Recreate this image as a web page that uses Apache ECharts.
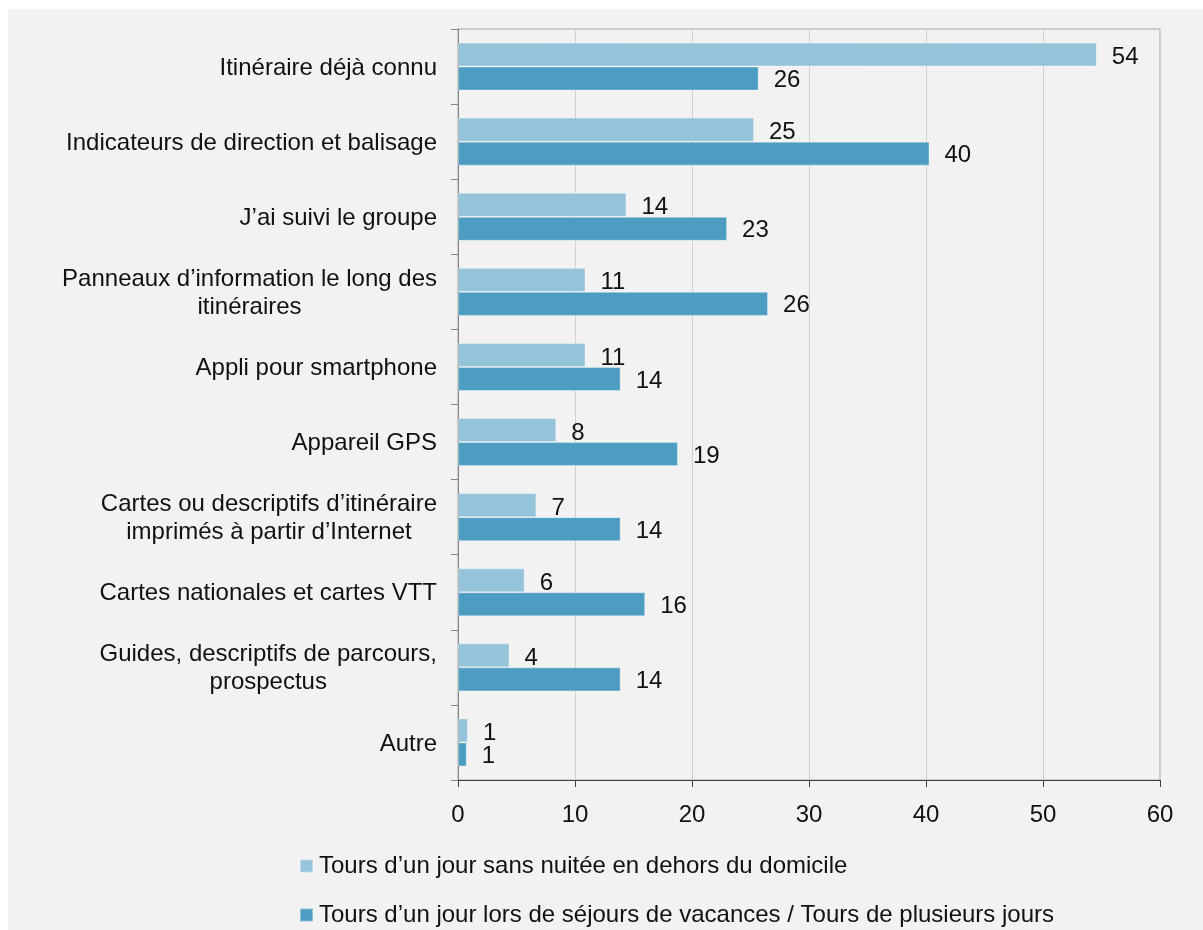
<!DOCTYPE html>
<html>
<head>
<meta charset="utf-8">
<script src="https://cdn.jsdelivr.net/npm/echarts@6/dist/echarts.min.js"></script>
<style>
  html, body { margin: 0; padding: 0; background: #ffffff; }
  #chart { position: absolute; left: 8px; top: 9px; width: 1195px; height: 921px; background: #f2f2f2; }
</style>
</head>
<body>
<div id="chart"></div>
<script>
const categories = [
  "Itinéraire déjà connu",
  "Indicateurs de direction et balisage",
  "J’ai suivi le groupe",
  "Panneaux d’information le long des\nitinéraires",
  "Appli pour smartphone",
  "Appareil GPS",
  "Cartes ou descriptifs d’itinéraire\nimprimés à partir d’Internet",
  "Cartes nationales et cartes VTT",
  "Guides, descriptifs de parcours,\nprospectus",
  "Autre"
];
const seriesNames = [
  "Tours d’un jour sans nuitée en dehors du domicile",
  "Tours d’un jour lors de séjours de vacances / Tours de plusieurs jours"
];
const dayTours = [54.6, 25.3, 14.4, 10.9, 10.9, 8.4, 6.7, 5.7, 4.4, 0.85];
const multiDayTours = [25.7, 40.3, 23.0, 26.5, 13.9, 18.8, 13.9, 16.0, 13.9, 0.75];
const dayLabels = ["54", "25", "14", "11", "11", "8", "7", "6", "4", "1"];
const multiDayLabels = ["26", "40", "23", "26", "14", "19", "14", "16", "14", "1"];
const xTicks = { min: 0, max: 60, interval: 10 };

const FONT = "Liberation Sans, Arial, sans-serif";
const chart = echarts.init(document.getElementById('chart'));
const labelStyle = (arr, dy) => ({
  show: true,
  position: 'right',
  distance: 15,
  offset: [0, dy],
  color: '#111',
  fontSize: 24,
  fontFamily: FONT,
  formatter: (p) => arr[p.dataIndex]
});
const legendBase = (name, top) => ({
  orient: 'vertical',
  left: 286,
  top: top,
  itemWidth: 13,
  itemHeight: 13,
  icon: 'rect',
  textStyle: { fontSize: 24, color: '#111', fontFamily: FONT, padding: [0, 0, 0, 1] },
  data: [name]
});
chart.setOption({
  backgroundColor: '#f2f2f2',
  animation: false,
  textStyle: { fontFamily: FONT },
  grid: {
    left: 450, right: 43, top: 20, bottom: 150,
    show: true, borderColor: '#a6a6a6', borderWidth: 1, backgroundColor: 'transparent'
  },
  legend: [
    legendBase(seriesNames[0], 840),
    legendBase(seriesNames[1], 889)
  ],
  xAxis: {
    type: 'value',
    min: xTicks.min, max: xTicks.max, interval: xTicks.interval,
    axisLine: { show: true, lineStyle: { color: '#404040', width: 1 } },
    axisTick: { show: true, length: 7, lineStyle: { color: '#404040' } },
    axisLabel: { fontSize: 24, color: '#111', margin: 23, fontFamily: FONT },
    splitLine: { show: true, lineStyle: { color: '#d0d0d0', width: 1 } }
  },
  yAxis: {
    type: 'category',
    inverse: true,
    data: categories,
    axisLine: { show: true, lineStyle: { color: '#868686', width: 1 } },
    axisTick: { show: true, length: 7, lineStyle: { color: '#868686' } },
    axisLabel: {
      fontSize: 24, color: '#111', margin: 21, fontFamily: FONT,
      formatter: (v) => v.split('\n').map(l => '{c|' + l + '}').join('\n'),
      rich: { c: { fontSize: 24, color: '#111', align: 'center', lineHeight: 28, fontFamily: FONT, padding: [3, 0, 0, 0] } }
    }
  },
  series: [
    {
      name: seriesNames[0], type: 'bar', data: dayTours,
      barGap: '0%', barCategoryGap: '36%',
      itemStyle: { color: '#95c4da', borderColor: 'rgba(255,255,255,0.35)', borderWidth: 1 },
      label: labelStyle(dayLabels, 3)
    },
    {
      name: seriesNames[1], type: 'bar', data: multiDayTours,
      barGap: '0%', barCategoryGap: '36%',
      itemStyle: { color: '#4d9dc3', borderColor: 'rgba(255,255,255,0.35)', borderWidth: 1 },
      label: labelStyle(multiDayLabels, 2)
    }
  ]
});
</script>
</body>
</html>
